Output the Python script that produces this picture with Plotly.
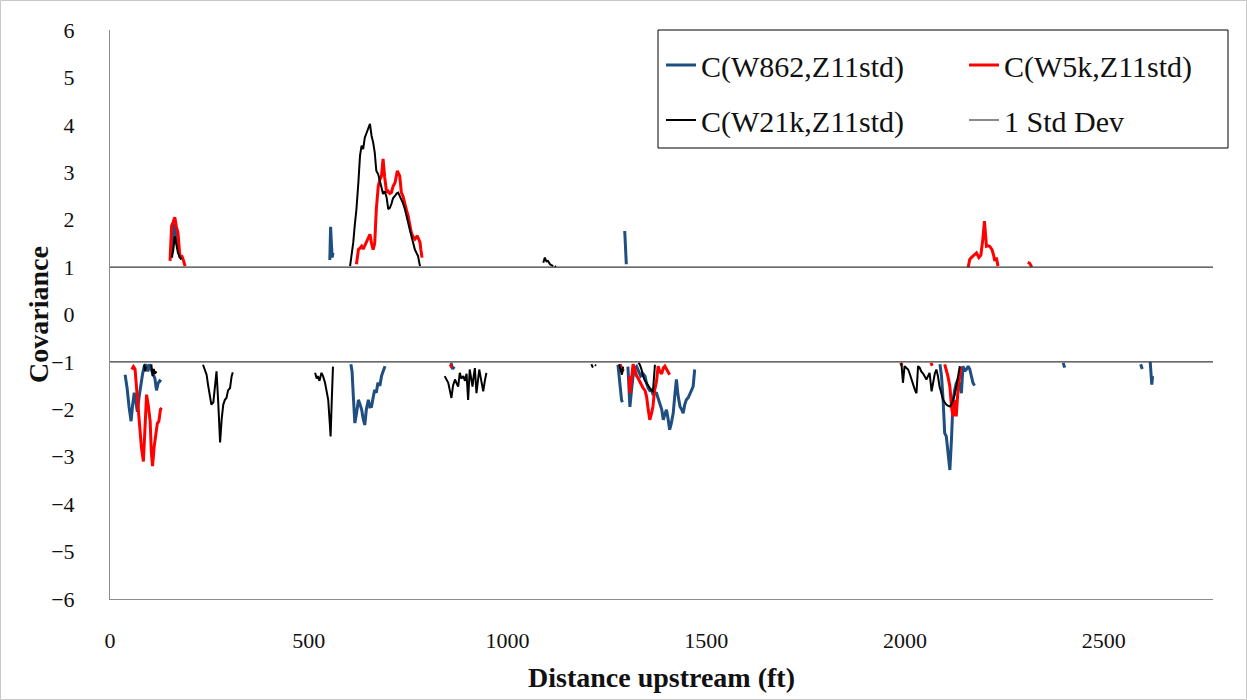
import plotly.graph_objects as go

# ---------------- data ----------------
# C(W862,Z11std)  (None = gap, covariance within +/-1 std dev not drawn)
w862_x = [38, 43, 48, 53, 57, 61, 65, 69, 73, 78, 82, 86, 90, 95, 99, 103, 108, 113, 117, 121, 125, 129, None,
          155, 158, 161, 164, 167, 170, 173, None,
          553, 555, 557, 559, 561, None,
          606, 609, 612, 616, 620, 625, 629, 633, 637, 641, 645, 650, 654, 658, 662, 666, 670, 674, 679, 683, 687, 692, None,
          858, 862, 866, None,
          1295, 1297, 1299, None,
          1278, 1281, 1284, 1287, 1289, None,
          1303, 1306, 1308, 1312, 1316, 1320, 1325, 1330, 1335, 1341, 1346, 1350, 1354, 1358, 1362, 1367, 1371, 1375,
          1379, 1383, 1388, 1392, 1396, 1400, 1404, 1408, 1412, 1417, 1421, 1425, 1429, 1434, 1438, 1442, 1446, 1450,
          1455, 1459, 1463, 1467, 1471, None,
          2088, 2092, 2096, 2100, 2104, 2108, 2113, 2117, 2121, 2125, 2129, 2134, 2138, 2142, 2146, 2150, 2155, 2159,
          2163, 2167, 2171, 2175, None,
          2398, 2402, None,
          2593, 2597, None,
          2617, 2619, 2621, 2623]
w862_y = [-1.27, -1.55, -1.95, -2.25, -1.9, -1.65, -1.85, -2.05, -1.75, -1.45, -1.25, -1.1, -1.05, -1.2, -1.05, -1.15, -1.25, -1.35, -1.6, -1.45, -1.4, -1.42, None,
          1.2, 1.6, 1.9, 1.85, 1.6, 1.45, 1.5, None,
          1.15, 1.85, 1.5, 1.2, 1.3, None,
          -1.05, -1.2, -1.7, -2.29, -2.1, -1.8, -1.9, -2.0, -2.2, -2.33, -2.0, -1.8, -1.95, -1.94, -1.75, -1.59, -1.65, -1.44, -1.5, -1.3, -1.2, -1.09, None,
          -1.02, -1.15, -1.1, None,
          1.76, 1.4, 1.06, None,
          -1.06, -1.35, -1.6, -1.8, -1.85, None,
          -1.1, -1.6, -1.95, -1.6, -1.3, -1.15, -1.1, -1.2, -1.3, -1.25, -1.3, -1.45, -1.55, -1.6, -1.59, -1.7, -1.65, -1.66,
          -1.75, -1.87, -2.0, -2.22, -2.1, -2.01, -2.2, -2.43, -2.3, -2.08, -1.7, -1.37, -1.7, -1.94, -2.0, -2.08, -1.9, -1.8,
          -1.75, -1.66, -1.6, -1.52, -1.16, None,
          -1.05, -1.3, -1.8, -2.5, -2.57, -2.93, -3.28, -2.64, -1.8, -1.6, -1.45, -1.37, -1.5, -1.66, -1.09, -1.2, -1.15, -1.09,
          -1.15, -1.3, -1.44, -1.5, None,
          -1.02, -1.12, None,
          -1.05, -1.15, None,
          -1.0, -1.2, -1.48, -1.3]

# C(W5k,Z11std)
w5k_x = [55, 59, 63, 67, 71, 75, 79, 84, 88, 92, 96, 101, 104, 107, 111, 115, 119, 123, 127, 130, None,
         151, 155, 159, 163, 167, 171, 176, 180, 184, 189, None,
         620, 625, 629, 633, 637, 641, 646, 650, 654, 658, 662, 666, 670, 675, 679, 683, 687, 691, 696, 700, 704, 708,
         712, 717, 723, 729, 733, 737, 742, 746, 750, 754, 758, 762, 767, 773, 777, 780, 782, 785, None,
         856, 860, None,
         1284, 1288, 1292, None,
         1306, 1308, 1312, 1316, 1320, 1325, 1329, 1333, 1337, 1341, 1346, 1350, 1354, 1358, 1362, 1366, 1370, 1375,
         1379, 1383, 1388, 1392, 1396, 1400, 1404, 1408, None,
         1989, 1993, None,
         2065, 2069, None,
         2100, 2104, 2108, 2113, 2117, 2121, 2125, 2129, 2134, 2138, 2140, None,
         2159, 2163, 2167, 2171, 2176, 2180, 2186, 2191, 2196, 2200, 2205, 2209, 2213, 2219, 2223, 2226, 2230, 2234, None,
         2309, 2314, 2319]
w5k_y = [-1.16, -1.1, -1.15, -1.55, -1.83, -2.3, -2.8, -3.1, -2.4, -1.69, -1.9, -2.25, -2.9, -3.2, -2.8, -2.54, -2.3, -2.25, -2.0, -1.97, None,
         1.13, 1.87, 1.95, 2.05, 1.85, 1.73, 1.2, 1.25, 1.16, 1.02, None,
         1.06, 1.37, 1.4, 1.44, 1.38, 1.45, 1.52, 1.6, 1.69, 1.5, 1.37, 1.5, 2.22, 2.71, 2.85, 2.92, 3.28, 2.9, 2.57, 2.6, 2.55, 2.57,
         2.7, 2.78, 3.03, 2.92, 2.57, 2.5, 2.36, 2.2, 2.08, 1.9, 1.73, 1.65, 1.59, 1.66, 1.55, 1.52, 1.37, 1.2, None,
         -1.05, -1.12, None,
         -1.05, -1.2, -1.15, None,
         -1.3, -1.66, -1.35, -1.05, -1.15, -1.3, -1.35, -1.41, -1.5, -1.55, -1.6, -1.73, -2.0, -2.22, -2.1, -1.94, -1.6, -1.41,
         -1.09, -1.2, -1.25, -1.13, -1.09, -1.15, -1.23, -1.27, None,
         -1.02, -1.08, None,
         -1.02, -1.08, None,
         -1.05, -1.16, -1.3, -1.52, -1.94, -2.15, -1.8, -2.15, -1.52, -1.3, -1.1, None,
         0.99, 1.16, 1.2, 1.23, 1.27, 1.3, 1.2, 1.25, 1.59, 1.97, 1.44, 1.45, 1.44, 1.37, 1.25, 1.13, 1.2, 1.02, None,
         1.1, 1.08, 1.0]

# C(W21k,Z11std)
w21k_x = [86, 88, 90, None,
          104, 107, 110, 113, 117, None,
          155, 159, 163, 167, 171, 176, 180, None,
          234, 239, 243, 247, 251, 255, 260, 264, 268, 272, 277, 281, 285, 289, 293, 297, 302, 306, 309, None,
          516, 520, 523, 527, 532, 536, 541, 545, 549, 553, 555, 558, 561, None,
          604, 608, 612, 616, 620, 625, 629, 633, 637, 641, 646, 650, 654, 658, 662, 666, 670, 675, 679, 683, 687, 691,
          696, 700, 704, 708, 712, 717, 721, 725, 729, 733, 737, 742, 746, 750, 754, 758, 762, 767, 771, 775, 778, 780, None,
          842, 846, 851, 855, 859, 863, 868, 872, 876, 880, 884, 889, 893, 897, 901, 905, 909, 912, 915, 918, 922, 925,
          929, 932, 935, 939, 943, 947, None,
          1090, 1094, 1098, 1102, 1107, 1111, 1115, None,
          1119, 1122, None,
          1211, 1215, None,
          1220, 1223, None,
          1281, 1284, 1288, 1291, None,
          1330, 1333, 1337, 1341, 1346, 1350, 1354, 1358, 1362, 1366, 1369, 1371, None,
          1991, 1995, 1999, 2004, 2008, 2012, 2016, 2020, 2025, 2029, 2033, 2037, 2041, 2046, 2050, 2054, 2058, 2062,
          2067, 2071, 2075, 2079, 2083, 2087, 2091, 2096, 2100, 2104, 2108, 2113, 2117, 2121, 2125, 2129, 2134, 2138]
w21k_y = [-1.05, -1.2, -1.1, None,
          -1.05, -1.3, -1.15, -1.25, -1.2, None,
          1.2, 1.35, 1.65, 1.45, 1.3, 1.2, 1.16, None,
          -1.06, -1.2, -1.27, -1.5, -1.7, -1.9, -1.85, -1.5, -1.2, -1.8, -2.7, -2.2, -1.9, -1.8, -1.76, -1.6, -1.55, -1.3, -1.22, None,
          -1.23, -1.35, -1.3, -1.4, -1.23, -1.3, -1.44, -1.6, -1.8, -2.3, -2.57, -1.8, -1.1, None,
          1.02, 1.25, 1.52, 1.9, 2.22, 2.8, 3.35, 3.56, 3.49, 3.73, 3.85, 3.91, 4.02, 3.77, 3.63, 3.42, 3.03, 2.95, 2.82, 2.7, 2.54, 2.6,
          2.47, 2.22, 2.25, 2.33, 2.45, 2.5, 2.55, 2.57, 2.5, 2.43, 2.35, 2.22, 2.1, 1.94, 1.8, 1.66, 1.5, 1.37, 1.3, 1.23, 1.1, 1.02, None,
          -1.3, -1.35, -1.44, -1.6, -1.76, -1.5, -1.37, -1.45, -1.52, -1.23, -1.35, -1.3, -1.4, -1.25, -1.8, -1.16, -1.35, -1.52, -1.3, -1.13, -1.66, -1.4,
          -1.16, -1.3, -1.44, -1.62, -1.4, -1.23, None,
          1.09, 1.2, 1.12, 1.13, 1.06, 1.04, 1.02, None,
          1.02, 1.0, None,
          -1.05, -1.12, None,
          -1.06, -1.08, None,
          -1.05, -1.13, -1.27, -1.1, None,
          -1.02, -1.06, -1.15, -1.3, -1.4, -1.45, -1.5, -1.55, -1.6, -1.62, -1.3, -1.06, None,
          -1.02, -1.44, -1.09, -1.12, -1.16, -1.25, -1.37, -1.45, -1.59, -1.66, -1.09, -1.12, -1.2, -1.25, -1.3, -1.37, -1.3, -1.23,
          -1.62, -1.4, -1.25, -1.16, -1.3, -1.52, -1.65, -1.8, -1.85, -1.9, -1.92, -1.94, -1.9, -1.8, -1.7, -1.52, -1.3, -1.09]

# +/- 1 standard deviation reference lines
std_x = [0, 2775, None, 0, 2775]
std_y = [1, 1, None, -1, -1]

series_names = ["C(W862,Z11std)", "C(W5k,Z11std)", "C(W21k,Z11std)", "1 Std Dev"]
x_tickvals = [0, 500, 1000, 1500, 2000, 2500]
y_tickvals = [-6, -5, -4, -3, -2, -1, 0, 1, 2, 3, 4, 5, 6]
x_title = "Distance upstream (ft)"
y_title = "Covariance"

# ---------------- figure ----------------
FONT = "Liberation Serif"
fig = go.Figure()
fig.add_trace(go.Scatter(x=w862_x, y=w862_y, mode="lines", name=series_names[0],
                         line=dict(color="#1F4E80", width=3), legend="legend"))
fig.add_trace(go.Scatter(x=w5k_x, y=w5k_y, mode="lines", name=series_names[1],
                         line=dict(color="#FF0000", width=3), legend="legend"))
fig.add_trace(go.Scatter(x=w21k_x, y=w21k_y, mode="lines", name=series_names[2],
                         line=dict(color="#000000", width=2), legend="legend2"))
fig.add_trace(go.Scatter(x=std_x, y=std_y, mode="lines", name=series_names[3],
                         line=dict(color="#3a3a3a", width=1.2), legend="legend2"))

L, R, T, B = 110, 34, 30, 101
W, H = 1247, 700
pw, ph = W - L - R, H - T - B


def px2x(px):
    return (px - L) / pw


def px2y(py):
    return (H - B - py) / ph


legend_common = dict(orientation="h", xanchor="left", yanchor="top",
                     bgcolor="rgba(0,0,0,0)", borderwidth=0,
                     font=dict(family=FONT, size=30, color="#111111"),
                     entrywidth=258, entrywidthmode="pixels", itemclick=False)

fig.update_layout(
    template="none",
    width=W, height=H,
    margin=dict(l=L, r=R, t=T, b=B, pad=0, autoexpand=False),
    paper_bgcolor="white", plot_bgcolor="white",
    font=dict(family=FONT, color="#111111"),
    showlegend=True,
    legend=dict(x=px2x(661), y=px2y(39), **legend_common),
    legend2=dict(x=px2x(661), y=px2y(94), **legend_common),
    xaxis=dict(range=[0, 2775], tickvals=x_tickvals, showgrid=False, zeroline=False,
               showline=True, linecolor="#8c8c8c", linewidth=1, ticks="",
               tickfont=dict(family=FONT, size=22, color="#111111"), ticklabelstandoff=22,
               automargin=False,
               title=dict(text="<b>" + x_title + "</b>", standoff=14,
                          font=dict(family=FONT, size=28, color="#111111"))),
    yaxis=dict(range=[-6, 6], tickvals=y_tickvals, showgrid=False, zeroline=False,
               showline=True, linecolor="#8c8c8c", linewidth=1, ticks="",
               tickfont=dict(family=FONT, size=22, color="#111111"), ticklabelstandoff=30,
               automargin=False),
    annotations=[
        dict(text="<b>" + y_title + "</b>", xref="paper", yref="paper",
             x=px2x(38), y=px2y(315), xanchor="center", yanchor="middle",
             textangle=-90, showarrow=False,
             font=dict(family=FONT, size=28, color="#111111")),
    ],
    shapes=[
        dict(type="rect", xref="paper", yref="paper",
             x0=px2x(658), x1=px2x(1228), y0=px2y(148), y1=px2y(30),
             line=dict(color="#000000", width=1), fillcolor="rgba(0,0,0,0)", layer="above"),
        dict(type="rect", xref="paper", yref="paper",
             x0=px2x(0.5), x1=px2x(1246.5), y0=px2y(699.5), y1=px2y(0.5),
             line=dict(color="#c8c8c8", width=1), fillcolor="rgba(0,0,0,0)", layer="below"),
    ],
)

fig.write_html("out.html")
